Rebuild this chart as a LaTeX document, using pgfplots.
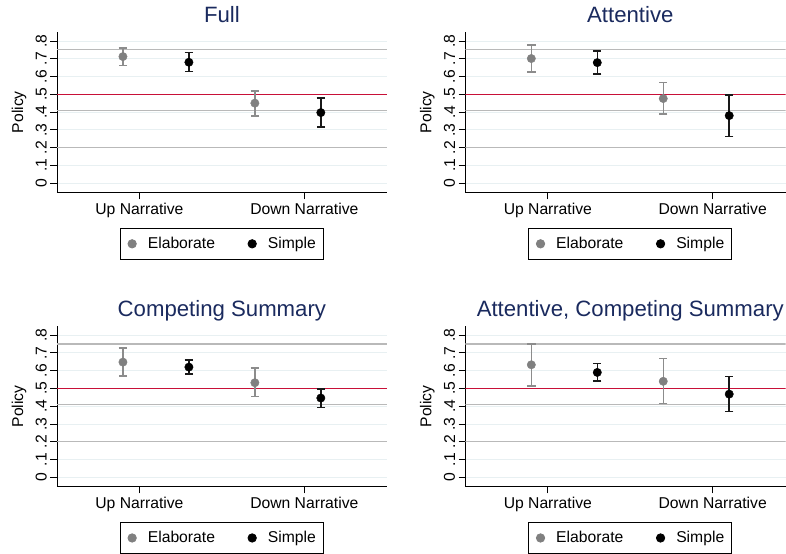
\documentclass[border=0pt]{standalone}
\usepackage{pgfplots}
\pgfplotsset{compat=1.18}
\usepackage{pgfplotstable}
\usepackage{fontspec}
\setmainfont{Liberation Sans}
\definecolor{titleblue}{RGB}{26,42,94}
\definecolor{gridc}{RGB}{232,240,242}
\definecolor{reflc}{RGB}{185,185,185}
\definecolor{redl}{RGB}{200,16,56}
\definecolor{elab}{RGB}{128,128,128}
\definecolor{elabbar}{RGB}{140,140,140}
\definecolor{simpbar}{RGB}{25,25,25}

% Full
\pgfplotstableread{
x y ep em
0.9 0.712 0.047 0.051
1.7 0.450 0.069 0.072
}\FullE
\pgfplotstableread{
x y ep em
1.3 0.680 0.054 0.052
2.1 0.397 0.081 0.080
}\FullS
% Attentive
\pgfplotstableread{
x y ep em
0.9 0.701 0.077 0.075
1.7 0.476 0.090 0.088
}\AttE
\pgfplotstableread{
x y ep em
1.3 0.678 0.064 0.065
2.1 0.380 0.116 0.118
}\AttS
% Competing Summary
\pgfplotstableread{
x y ep em
0.9 0.648 0.079 0.077
1.7 0.532 0.083 0.077
}\CompE
\pgfplotstableread{
x y ep em
1.3 0.620 0.039 0.039
2.1 0.446 0.050 0.053
}\CompS
% Attentive, Competing Summary
\pgfplotstableread{
x y ep em
0.9 0.633 0.118 0.118
1.7 0.540 0.129 0.126
}\ACE
\pgfplotstableread{
x y ep em
1.3 0.590 0.049 0.047
2.1 0.468 0.100 0.099
}\ACS

\pgfplotsset{
  panel/.style={
    scale only axis, width=330pt, height=161pt,
    xmin=0.5, xmax=2.5, ymin=-0.053, ymax=0.852,
    axis x line*=bottom, axis y line*=left,
    axis line style={line width=0.8pt, black},
    xtick={1,2}, xticklabels={Up Narrative, Down Narrative},
    ytick={0,0.1,0.2,0.3,0.4,0.5,0.6,0.7,0.8},
    yticklabels={0,.1,.2,.3,.4,.5,.6,.7,.8},
    tick align=outside, major tick length=6.7pt,
    tick style={line width=0.8pt, black},
    ymajorgrids, grid style={gridc, line width=0.8pt},
    tick label style={font=\fontsize{15.7}{18}\selectfont},
    yticklabel style={rotate=90, anchor=south},
    ylabel={Policy},
    ylabel style={font=\fontsize{15.7}{18}\selectfont, at={(axis description cs:0,0.5)}, yshift=38pt, anchor=center, inner sep=0pt},
    title style={font=\fontsize{22.2}{26}\selectfont, text=titleblue, at={(axis description cs:0,1)}, xshift=165pt, anchor=base, yshift=3.4pt, inner sep=0pt},
    legend columns=2,
    legend style={at={(axis description cs:0,0)}, xshift=165pt, anchor=north, yshift=-36pt,
      draw=black, line width=0.8pt, font=\fontsize{15.7}{18}\selectfont,
      nodes={inner sep=0pt}, inner xsep=7.5pt, inner ysep=8.8pt, outer sep=0pt,
      /tikz/every odd column/.append style={column sep=11.5pt},
      /tikz/every even column/.append style={column sep=33pt}},
  },
  rpanel/.style={panel, width=320.4pt, xmax=2.442},
  elabplot/.style={only marks, mark=*, mark size=4.2pt, color=elab,
    error bars/.cd, y dir=both, y explicit, error mark=-,
    error bar style={elabbar, line width=1.5pt},
    error mark options={rotate=90, elabbar, mark size=4.2pt, line width=1.5pt}},
  simpplot/.style={only marks, mark=*, mark size=4.2pt, color=black,
    error bars/.cd, y dir=both, y explicit, error mark=-,
    error bar style={simpbar, line width=1.5pt},
    error mark options={rotate=90, simpbar, mark size=4.2pt, line width=1.5pt}},
}

\newcommand{\refl}[1]{%
  \addplot[reflc, line width=1.2pt, forget plot] coordinates {(0.5,0.75) (#1,0.75)};
  \addplot[reflc, line width=1.2pt, forget plot] coordinates {(0.5,0.41) (#1,0.41)};
  \addplot[reflc, line width=1.2pt, forget plot] coordinates {(0.5,0.2) (#1,0.2)};
  \addplot[redl, line width=1.2pt, forget plot] coordinates {(0.5,0.5) (#1,0.5)};
}

\begin{document}
\begin{tikzpicture}
\path (0pt,0pt) rectangle (786pt,-554pt);

\begin{axis}[panel, at={(57pt,-192.7pt)}, anchor=south west, title={Full}]
\refl{2.5}
\addplot[elabplot] table[x=x, y=y, y error plus=ep, y error minus=em] {\FullE};
\addlegendentry{Elaborate}
\addplot[simpplot] table[x=x, y=y, y error plus=ep, y error minus=em] {\FullS};
\addlegendentry{Simple}
\end{axis}

\begin{axis}[rpanel, at={(465.6pt,-192.7pt)}, anchor=south west, title={Attentive}]
\refl{2.442}
\addplot[elabplot] table[x=x, y=y, y error plus=ep, y error minus=em] {\AttE};
\addlegendentry{Elaborate}
\addplot[simpplot] table[x=x, y=y, y error plus=ep, y error minus=em] {\AttS};
\addlegendentry{Simple}
\end{axis}

\begin{axis}[panel, at={(57pt,-487pt)}, anchor=south west, title={Competing Summary}]
\refl{2.5}
\addplot[elabplot] table[x=x, y=y, y error plus=ep, y error minus=em] {\CompE};
\addlegendentry{Elaborate}
\addplot[simpplot] table[x=x, y=y, y error plus=ep, y error minus=em] {\CompS};
\addlegendentry{Simple}
\end{axis}

\begin{axis}[rpanel, at={(465.6pt,-487pt)}, anchor=south west, title={Attentive, Competing Summary}]
\refl{2.442}
\addplot[elabplot] table[x=x, y=y, y error plus=ep, y error minus=em] {\ACE};
\addlegendentry{Elaborate}
\addplot[simpplot] table[x=x, y=y, y error plus=ep, y error minus=em] {\ACS};
\addlegendentry{Simple}
\end{axis}
\end{tikzpicture}
\end{document}
